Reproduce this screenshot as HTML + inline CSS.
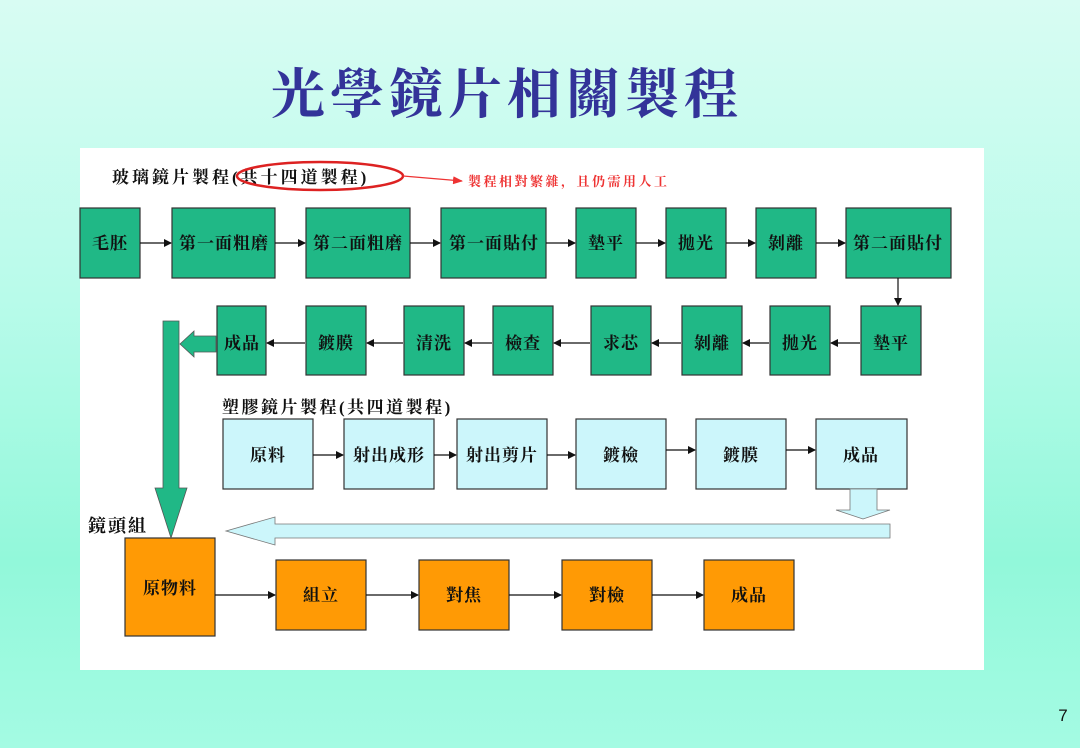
<!DOCTYPE html>
<html><head><meta charset="utf-8"><style>
html,body{margin:0;padding:0}
body{width:1080px;height:748px;overflow:hidden;background:linear-gradient(#d8fcf3 0%,#b8fbea 40%,#92f8da 75%,#a4fbe3 100%);font-family:"Liberation Serif","Noto Serif CJK SC",serif}
svg{position:absolute;left:0;top:0}
</style></head><body>
<svg width="1080" height="748" viewBox="0 0 1080 748" xmlns="http://www.w3.org/2000/svg" font-family="Liberation Serif, Noto Serif CJK SC, serif">
<defs>
<marker id="ah" markerWidth="8" markerHeight="8" refX="7" refY="4" orient="auto" markerUnits="userSpaceOnUse"><path d="M0,0 L8,4 L0,8 z" fill="#111"/></marker>
<marker id="rh" markerWidth="10" markerHeight="8" refX="9" refY="4" orient="auto" markerUnits="userSpaceOnUse"><path d="M0,0 L10,4 L0,8 z" fill="#e33"/></marker>
</defs>
<text x="507" y="113" text-anchor="middle" font-size="54" font-weight="bold" fill="#333399" letter-spacing="5">光學鏡片相關製程</text>
<rect x="80" y="148" width="904" height="522" fill="#fff"/>
<text x="112" y="183" font-size="17" font-weight="bold" fill="#111" letter-spacing="3">玻璃鏡片製程(共十四道製程)</text>
<ellipse cx="320" cy="176" rx="83" ry="14" fill="none" stroke="#d22" stroke-width="2.5"/>
<line x1="403" y1="176" x2="462" y2="181" stroke="#e33" stroke-width="1.2" marker-end="url(#rh)"/>
<text x="468" y="186" font-size="13" font-weight="bold" fill="#e33" letter-spacing="2.5">製程相對繁雜，且仍需用人工</text>
<g stroke="#333" stroke-width="1.2" font-size="16" fill="#111">
<g fill="#20b886">
<rect x="80" y="208" width="60" height="70"/><rect x="172" y="208" width="103" height="70"/><rect x="306" y="208" width="104" height="70"/><rect x="441" y="208" width="105" height="70"/><rect x="576" y="208" width="60" height="70"/><rect x="666" y="208" width="60" height="70"/><rect x="756" y="208" width="60" height="70"/><rect x="846" y="208" width="105" height="70"/>
<rect x="217" y="306" width="49" height="69"/><rect x="306" y="306" width="60" height="69"/><rect x="404" y="306" width="60" height="69"/><rect x="493" y="306" width="60" height="69"/><rect x="591" y="306" width="60" height="69"/><rect x="682" y="306" width="60" height="69"/><rect x="770" y="306" width="60" height="69"/><rect x="861" y="306" width="60" height="69"/>
</g>
<g fill="#ccf6fb">
<rect x="223" y="419" width="90" height="70"/><rect x="344" y="419" width="90" height="70"/><rect x="457" y="419" width="90" height="70"/><rect x="576" y="419" width="90" height="70"/><rect x="696" y="419" width="90" height="70"/><rect x="816" y="419" width="91" height="70"/>
</g>
<g fill="#ff9a05">
<rect x="125" y="538" width="90" height="98"/><rect x="276" y="560" width="90" height="70"/><rect x="419" y="560" width="90" height="70"/><rect x="562" y="560" width="90" height="70"/><rect x="704" y="560" width="90" height="70"/>
</g>
</g>
<g font-size="17" font-weight="bold" fill="#111" text-anchor="middle" stroke="none" letter-spacing="1">
<text x="110" y="249">毛胚</text><text x="224" y="249">第一面粗磨</text><text x="358" y="249">第二面粗磨</text><text x="494" y="249">第一面貼付</text><text x="606" y="249">墊平</text><text x="696" y="249">拋光</text><text x="786" y="249">剝離</text><text x="898" y="249">第二面貼付</text>
<text x="242" y="349">成品</text><text x="336" y="349">鍍膜</text><text x="434" y="349">清洗</text><text x="523" y="349">檢查</text><text x="621" y="349">求芯</text><text x="712" y="349">剝離</text><text x="800" y="349">拋光</text><text x="891" y="349">墊平</text>
<text x="268" y="461">原料</text><text x="389" y="461">射出成形</text><text x="502" y="461">射出剪片</text><text x="621" y="461">鍍檢</text><text x="741" y="461">鍍膜</text><text x="861" y="461">成品</text>
<text x="170" y="594">原物料</text><text x="321" y="601">組立</text><text x="464" y="601">對焦</text><text x="607" y="601">對檢</text><text x="749" y="601">成品</text>
</g>
<g stroke="#111" stroke-width="1.2" marker-end="url(#ah)">
<line x1="140" y1="243" x2="171" y2="243"/><line x1="275" y1="243" x2="305" y2="243"/><line x1="410" y1="243" x2="440" y2="243"/><line x1="546" y1="243" x2="575" y2="243"/><line x1="636" y1="243" x2="665" y2="243"/><line x1="726" y1="243" x2="755" y2="243"/><line x1="816" y1="243" x2="845" y2="243"/>
<line x1="898" y1="278" x2="898" y2="305"/>
<line x1="860" y1="343" x2="831" y2="343"/><line x1="769" y1="343" x2="743" y2="343"/><line x1="681" y1="343" x2="652" y2="343"/><line x1="590" y1="343" x2="554" y2="343"/><line x1="492" y1="343" x2="465" y2="343"/><line x1="403" y1="343" x2="367" y2="343"/><line x1="305" y1="343" x2="267" y2="343"/>
<line x1="313" y1="455" x2="343" y2="455"/><line x1="434" y1="455" x2="456" y2="455"/><line x1="547" y1="455" x2="575" y2="455"/><line x1="666" y1="450" x2="695" y2="450"/><line x1="786" y1="450" x2="815" y2="450"/>
<line x1="215" y1="595" x2="275" y2="595"/><line x1="366" y1="595" x2="418" y2="595"/><line x1="509" y1="595" x2="561" y2="595"/><line x1="652" y1="595" x2="703" y2="595"/>
</g>
<text x="222" y="413" font-size="17" font-weight="bold" fill="#111" letter-spacing="2.5">塑膠鏡片製程(共四道製程)</text>
<text x="88" y="532" font-size="18" font-weight="bold" fill="#111" letter-spacing="2">鏡頭組</text>
<path d="M163,321 L179,321 L179,488 L187,488 L171,538 L155,488 L163,488 Z" fill="#20b886" stroke="#555" stroke-width="0.8"/>
<path d="M216,336 L194,336 L194,331 L180,344 L194,357 L194,352 L216,352 Z" fill="#20b886" stroke="#555" stroke-width="0.8"/>
<path d="M850,489 L877,489 L877,510 L890,510 L863,519 L836,510 L850,510 Z" fill="#ccf6fb" stroke="#777" stroke-width="0.8"/>
<path d="M890,524 L275,524 L275,517 L226,531 L275,545 L275,538 L890,538 Z" fill="#ccf6fb" stroke="#777" stroke-width="0.8"/>
<text x="1063" y="721" font-size="17" fill="#111" font-family="Liberation Sans, sans-serif" text-anchor="middle">7</text>
</svg>
</body></html>
